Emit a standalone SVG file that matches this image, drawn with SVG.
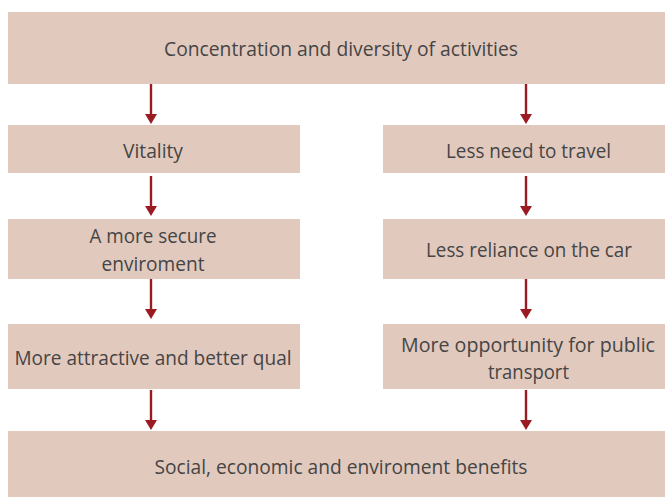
<svg xmlns="http://www.w3.org/2000/svg" width="665" height="497" viewBox="0 0 665 497">
<style>
.box{fill:#e2c9be;}
.t{font-family:"Open Sans","Noto Sans","DejaVu Sans",sans-serif;font-size:20px;fill:#454545;text-anchor:middle;}
.c{stroke:#9a1b22;stroke-width:2.4;fill:none;}
</style>
<defs>
<marker id="ah" markerUnits="userSpaceOnUse" markerWidth="10" markerHeight="12" viewBox="0 0 10 12" refX="6" refY="6" orient="auto">
<path d="M0,0 L10,6 L0,12 z" fill="#9a1b22"/>
</marker>
</defs>
<rect width="665" height="497" fill="#ffffff"/>
<g id="n-top"><rect class="box" x="8" y="12" width="657" height="72"/><text class="t" x="341" y="56" textLength="354" lengthAdjust="spacingAndGlyphs">Concentration and diversity of activities</text></g>
<g id="n-vitality"><rect class="box" x="8" y="125" width="292" height="48"/><text class="t" x="153" y="158" textLength="60" lengthAdjust="spacingAndGlyphs">Vitality</text></g>
<g id="n-secure"><rect class="box" x="8" y="219" width="292" height="60"/><text class="t" x="153" y="243" textLength="127" lengthAdjust="spacingAndGlyphs">A more secure</text><text class="t" x="153" y="271" textLength="103" lengthAdjust="spacingAndGlyphs">enviroment</text></g>
<g id="n-attractive"><rect class="box" x="8" y="324" width="292" height="65"/><text class="t" x="153" y="365" textLength="277" lengthAdjust="spacingAndGlyphs">More attractive and better qual</text></g>
<g id="n-travel"><rect class="box" x="383" y="125" width="282" height="48"/><text class="t" x="528.5" y="158" textLength="165" lengthAdjust="spacingAndGlyphs">Less need to travel</text></g>
<g id="n-car"><rect class="box" x="383" y="219" width="282" height="60"/><text class="t" x="529" y="257" textLength="206" lengthAdjust="spacingAndGlyphs">Less reliance on the car</text></g>
<g id="n-public"><rect class="box" x="383" y="324" width="282" height="65"/><text class="t" x="528" y="352" textLength="254" lengthAdjust="spacingAndGlyphs">More opportunity for public</text><text class="t" x="528.5" y="379" textLength="81" lengthAdjust="spacingAndGlyphs">transport</text></g>
<g id="n-benefits"><rect class="box" x="8" y="431" width="657" height="66"/><text class="t" x="341" y="474" textLength="373" lengthAdjust="spacingAndGlyphs">Social, economic and enviroment benefits</text></g>
<g id="connectors">
<line class="c" x1="151" y1="84" x2="151" y2="120" marker-end="url(#ah)"/>
<line class="c" x1="151" y1="176" x2="151" y2="212" marker-end="url(#ah)"/>
<line class="c" x1="151" y1="279" x2="151" y2="315" marker-end="url(#ah)"/>
<line class="c" x1="151" y1="390" x2="151" y2="426" marker-end="url(#ah)"/>
<line class="c" x1="526" y1="84" x2="526" y2="120" marker-end="url(#ah)"/>
<line class="c" x1="526" y1="176" x2="526" y2="212" marker-end="url(#ah)"/>
<line class="c" x1="526" y1="279" x2="526" y2="315" marker-end="url(#ah)"/>
<line class="c" x1="526" y1="390" x2="526" y2="426" marker-end="url(#ah)"/>
</g>
</svg>
